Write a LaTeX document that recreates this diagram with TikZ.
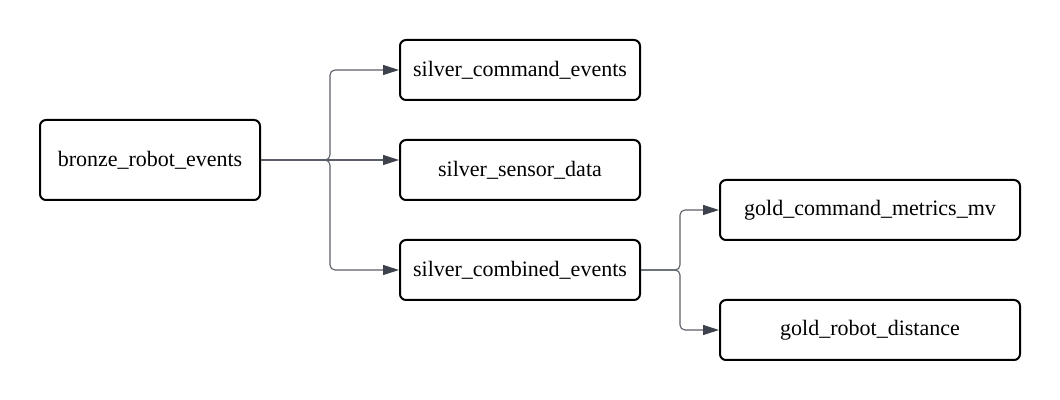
\documentclass[tikz,border=0pt]{standalone}
\usepackage{fontspec}
\setmainfont{Liberation Serif}
\usepackage{tikz}
\usetikzlibrary{arrows.meta}
\usetikzlibrary{positioning}
\definecolor{linegray}{HTML}{5A5E66}
\definecolor{tipgray}{HTML}{3D424C}

\begin{document}
\begin{tikzpicture}[x=0.5pt,y=-0.5pt,
table/.style={draw=black, line width=1pt, rounded corners=3pt, fill=white,
  font=\fontsize{11}{13}\selectfont, inner sep=0pt},
flow/.style={draw=linegray, line width=0.55pt, rounded corners=2.5pt,
  -{Triangle[length=8pt,width=5pt,color=tipgray]}}]
\useasboundingbox (0,0) rectangle (1060,400);
\node[table, minimum width=110pt, minimum height=40pt] (bronze) at (150,160) {bronze\_robot\_events};
\node[table, minimum width=120pt, minimum height=30pt] (scmd) at (520,70) {silver\_command\_events};
\node[table, minimum width=120pt, minimum height=30pt] (ssens) at (520,170) {silver\_sensor\_data};
\node[table, minimum width=120pt, minimum height=30pt] (scomb) at (520,270) {silver\_combined\_events};
\node[table, minimum width=150pt, minimum height=30pt] (gcmd) at (870,210) {gold\_command\_metrics\_mv};
\node[table, minimum width=150pt, minimum height=30pt] (gdist) at (870,330) {gold\_robot\_distance};
\coordinate (split1) at (330,160);
\coordinate (split2) at (680,270);
% bronze -> silver
\draw[flow] (bronze.east) -- (split1) |- (scmd.west);
\draw[flow] (bronze.east) -- (ssens.west |- split1);
\draw[flow] (bronze.east) -- (split1) |- (scomb.west);
% silver -> gold
\draw[flow] (scomb.east) -- (split2) |- (gcmd.west);
\draw[flow] (scomb.east) -- (split2) |- (gdist.west);
\end{tikzpicture}
\end{document}
